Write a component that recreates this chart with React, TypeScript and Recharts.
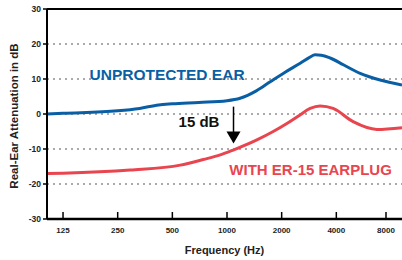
import React from 'react';
import { LineChart, Line, XAxis, YAxis, CartesianGrid, ReferenceLine, ReferenceDot } from 'recharts';

const freqTicks = [125, 250, 500, 1000, 2000, 4000, 8000];
const dbTicks = [-30, -20, -10, 0, 10, 20, 30];

const unprotectedFreq = [102, 125, 250, 330, 420, 500, 700, 1000, 1180, 1450, 1730, 2100, 2530, 2850, 3060, 3300, 3700, 4400, 5410, 6970, 9200];
const unprotectedDb = [0, 0.2, 0.9, 1.6, 2.6, 2.9, 3.3, 3.8, 4.5, 6.6, 9.2, 12.0, 14.5, 16.2, 16.9, 16.8, 16.0, 14.0, 11.6, 9.7, 8.3];

const earplugFreq = [102, 125, 293, 553, 740, 918, 1082, 1461, 1796, 2137, 2500, 2870, 3258, 3840, 4950, 6680, 9200];
const earplugDb = [-17, -16.9, -16, -14.6, -13, -11.7, -10.3, -7.4, -5, -2.7, -0.4, 1.6, 2.3, 1.6, -2.2, -4.4, -3.9];

const BLUE = '#0a5fa4';
const RED = '#e8454f';

const unprotected = unprotectedFreq.map((f, i) => ({ f, v: unprotectedDb[i] }));
const earplug = earplugFreq.map((f, i) => ({ f, v: earplugDb[i] }));

const FONT = '"Liberation Sans", Arial, sans-serif';

const XTick = (props: any) => {
  const { x, y, payload } = props;
  return (
    <g>
      <line x1={x} x2={x} y1={y} y2={y - 7} stroke="#000" strokeWidth={1.5} />
      <text x={x} y={y + 14} textAnchor="middle" fontFamily={FONT} fontWeight="bold" fontSize={8} fill="#222">
        {payload.value}
      </text>
    </g>
  );
};

const XTitle = (props: any) => {
  const vb = props.viewBox;
  return (
    <text x={vb.x + vb.width / 2} y={vb.y + 35} textAnchor="middle" fontFamily={FONT} fontWeight="bold" fontSize={11} fill="#222">
      Frequency (Hz)
    </text>
  );
};

const YTitle = (props: any) => {
  const vb = props.viewBox;
  const cx = vb.x + 18;
  const cy = vb.y + vb.height / 2 + 2;
  return (
    <text x={cx} y={cy} transform={`rotate(-90 ${cx} ${cy})`} textAnchor="middle" fontFamily={FONT} fontWeight="bold" fontSize={11.5} fill="#222">
      Real-Ear Attenuation in dB
    </text>
  );
};

const TextMark = (value: string, color: string, size: number) => (props: any) => (
  <text x={props.cx} y={props.cy} fill={color} fontFamily={FONT} fontWeight="bold" fontSize={size} textAnchor="start">
    {value}
  </text>
);

const ArrowShape = (props: any) => {
  const { x1, y1, x2, y2 } = props;
  return (
    <g>
      <line x1={x1} x2={x2} y1={y1} y2={y2 - 11} stroke="#000" strokeWidth={1.5} />
      <polygon points={`${x2 - 7},${y2 - 12} ${x2 + 7},${y2 - 12} ${x2},${y2}`} fill="#000" />
    </g>
  );
};

export default function App() {
  return (
    <div style={{ width: 402, height: 260, background: '#fff' }}>
      <style>{'html,body{margin:0;padding:0;overflow:hidden;}'}</style>
      <LineChart width={402} height={260} margin={{ top: 9, right: 0, bottom: 0, left: 0 }}>
        <CartesianGrid vertical={false} stroke="#aaa" strokeWidth={2} strokeDasharray="2 4" />
        <XAxis
          dataKey="f"
          type="number"
          scale="log"
          domain={[102, 9200]}
          ticks={freqTicks}
          allowDataOverflow
          height={41}
          tickSize={0}
          tickMargin={0}
          tick={<XTick />}
          axisLine={{ stroke: '#000', strokeWidth: 2.5 }}
          tickLine={false}
          label={<XTitle />}
        />
        <YAxis
          type="number"
          domain={[-30, 30]}
          ticks={dbTicks}
          width={47}
          tickSize={4}
          tickMargin={2}
          tick={{ fontFamily: FONT, fontWeight: 'bold', fontSize: 8.5, fill: '#222' }}
          tickLine={{ stroke: '#000', strokeWidth: 1.5 }}
          axisLine={{ stroke: '#000', strokeWidth: 2 }}
          label={<YTitle />}
        />
        <ReferenceLine y={30} stroke="#000" strokeWidth={2} />
        <Line data={unprotected} dataKey="v" type="monotone" stroke={BLUE} strokeWidth={3} dot={false} isAnimationActive={false} />
        <Line data={earplug} dataKey="v" type="monotone" stroke={RED} strokeWidth={3} dot={false} isAnimationActive={false} />
        <ReferenceLine segment={[{ x: 1086, y: 2.1 }, { x: 1086, y: -8.4 }]} shape={ArrowShape} ifOverflow="visible" />
        <ReferenceDot x={175} y={9.7} r={0} ifOverflow="visible" shape={TextMark('UNPROTECTED EAR', BLUE, 15.5)} />
        <ReferenceDot x={1030} y={-17.4} r={0} ifOverflow="visible" shape={TextMark('WITH ER-15 EARPLUG', RED, 15)} />
        <ReferenceDot x={541} y={-3.6} r={0} ifOverflow="visible" shape={TextMark('15 dB', '#111', 15)} />
      </LineChart>
    </div>
  );
}
